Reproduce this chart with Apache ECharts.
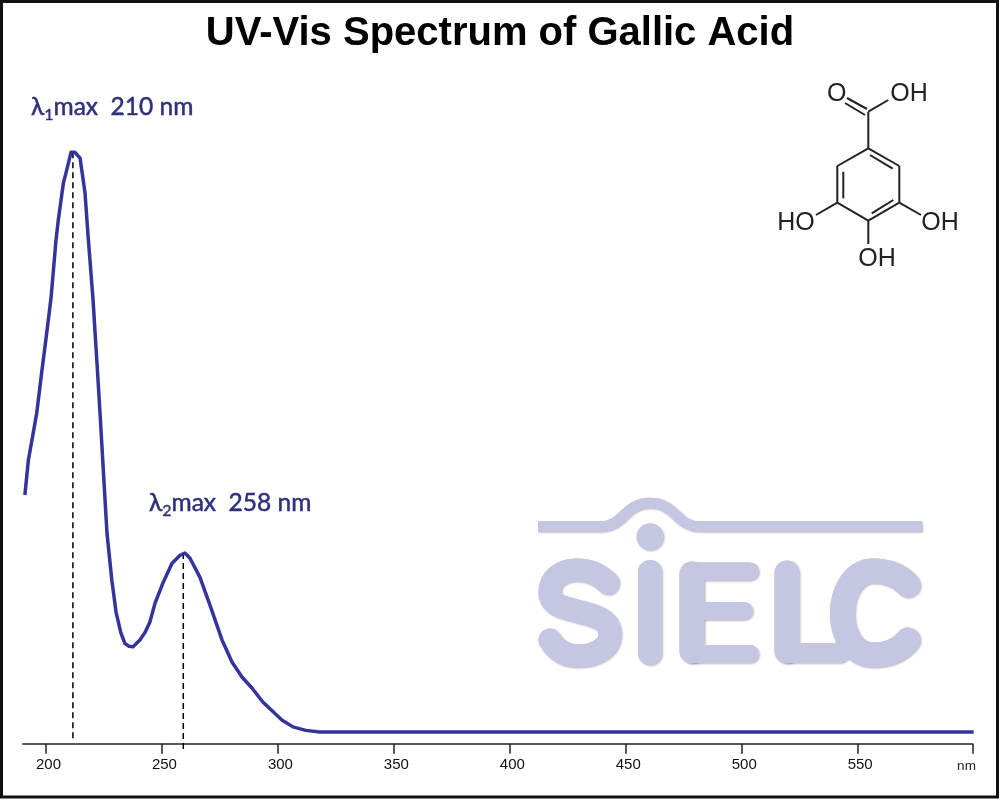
<!DOCTYPE html>
<html>
<head>
<meta charset="utf-8">
<style>html,body{margin:0;padding:0;background:#fff}#c{width:1000px;height:800px}</style>
<script src="https://cdn.jsdelivr.net/npm/echarts@6/dist/echarts.min.js"></script>
</head>
<body>
<div id="c"></div>
<script>
const titleText = 'UV-Vis Spectrum of Gallic Acid';
const tickValues = [200,250,300,350,400,450,500,550,600];
const tickLabels = ['200','250','300','350','400','450','500','550','nm'];
const wavelengths = [190.9,192.4,196,198.1,200.3,202.2,204.3,205.3,207.5,208.9,210.8,212.5,214.7,216.8,218.2,220.3,221.1,222,223.3,224.6,225.6,226.3,228.4,230.2,232.3,234,235.8,237.5,240.5,242.7,244.8,247,250.4,254.3,257.8,259.9,262.1,266.4,270.7,275.9,280.2,284.5,288.8,293.5,301.7,306.5,312,318,600];
const absorbance = [.409,.469,.550,.619,.688,.750,.848,.883,.947,.969,1,1,.990,.931,.853,.745,.693,.636,.55,.460,.391,.343,.262,.207,.171,.153,.148,.147,.159,.172,.19,.222,.257,.291,.305,.309,.300,.267,.219,.159,.121,.095,.076,.052,.021,.009,.003,0,0];
const peak1Wavelength = [211.6,211.6];
const peak1Level = [1,-.012];
const peak2Wavelength = [259.2,259.2];
const peak2Level = [.309,-.033];

const blue = '#34349c', labelBlue = '#2f2f7c', logo = '#c5c6e2', ink = '#222';
const zip = (a,b) => a.map((v,i) => [v,b[i]]);
const dashed = (name,xs,ys) => ({name,type:'line',data:zip(xs,ys),symbol:'none',silent:true,clip:false,z:1,
  lineStyle:{color:'#000',width:1.5,type:[6,4]}});

const shadow = {shadowBlur:2,shadowOffsetX:1,shadowOffsetY:1,shadowColor:'rgba(60,60,80,.35)'};
let shapeId = 0;
const logoStrokes = [
  ['M538 526.5 H600 C624 526.5 624 503 650 503 C676 503 676 526.5 700 526.5 H922',10.5,'butt'],
  ['M608 583 C600 575 590 570 577 570 C562 570 550 578 550 592 C550 606 565 608 580 612 C597 616 610 620 610 634 C610 648 595 656 578 656 C565 656 556 650 550 640',23],
  ['M650 572 V653',24],
  ['M692 574 V651',25],
  ['M692 571.5 H750',18],
  ['M692 611 H744',18],
  ['M692 654 H750',18],
  ['M787 573 V651',25],
  ['M787 653 H840',20],
  ['M908 585 C900 576 888 571 873 571 C855 571 842.5 590 842.5 613 C842.5 637 855 655 873 655 C888 655 900 650 908 640',25]
];
function logoLayer(withShadow){
  return logoStrokes.map(([d,w,cap]) => {
    const name = 'logoStroke' + (shapeId++);
    echarts.graphic.registerShape(name, echarts.graphic.extendPath(d, {}));
    return {type:name,z:0,silent:true,
      style:Object.assign({fill:null,stroke:logo,lineWidth:w,lineCap:cap||'round',lineJoin:'round'},withShadow?shadow:{})};
  });
}
function bond(x1,y1,x2,y2){
  return {type:'line',z:3,silent:true,shape:{x1,y1,x2,y2},style:{stroke:ink,lineWidth:2}};
}
function atom(t,x,y){
  return {type:'text',z:3,silent:true,x,y,style:{text:t,fill:ink,font:'25px "Liberation Sans"',align:'center',verticalAlign:'middle'}};
}
function peakLabel(idx,rest,x,y){
  return {type:'text',z:3,silent:true,x,y,style:{
    text:'{a|λ}{s|'+idx+'}{a|'+rest+'}',
    rich:{a:{font:'24.5px Lato, "Noto Sans"',fill:labelBlue,stroke:labelBlue,lineWidth:.5,verticalAlign:'middle'},
          s:{font:'16px Lato, "Noto Sans"',fill:labelBlue,stroke:labelBlue,lineWidth:.4,verticalAlign:'bottom',lineHeight:32}},
    verticalAlign:'middle',align:'left'}};
}

const graphics = [
  {type:'circle',z:0,silent:true,shape:{cx:650,cy:536.7,r:13.5},style:Object.assign({fill:logo},shadow)},
  ...logoLayer(true),
  ...logoLayer(false),
  bond(868.3,148.3,899.3,166),bond(899.3,166,899.3,202.7),bond(899.3,202.7,868.3,220.7),
  bond(868.3,220.7,837.3,202.7),bond(837.3,202.7,837.3,166),bond(837.3,166,868.3,148.3),
  bond(870,155,892.7,168.7),bond(843.3,171.7,843.3,198.3),bond(871.7,213.3,893.3,200),
  bond(868.3,148.3,868.3,111.7),bond(867,109,847,98),bond(865,115,845,103),bond(868.3,111.7,888.3,100),
  bond(837.3,202.7,816,215),bond(899.3,202.7,921,215),bond(868.3,220.7,868.3,244),
  atom('O',836.7,94),atom('OH',909,94),atom('HO',796,223),atom('OH',940,223),atom('OH',877,259),
  peakLabel('1','max  210 nm',31,107),
  peakLabel('2','max  258 nm',149,503),
  {type:'rect',z:5,silent:true,shape:{x:1.5,y:1.5,width:996,height:795.5},style:{fill:null,stroke:'#111',lineWidth:3}}
];

const chart = echarts.init(document.getElementById('c'),null,{renderer:'canvas'});
chart.setOption({
  animation:false,
  backgroundColor:'#fff',
  title:{text:titleText,left:'center',top:9,textStyle:{fontFamily:'Liberation Sans',fontWeight:'bold',fontSize:40,color:'#000'}},
  grid:{left:22.8,width:949.7,top:94.4,bottom:56.3,containLabel:false},
  xAxis:{type:'value',min:190,max:599.5,
    splitLine:{show:false},
    axisLine:{show:true,onZero:false,lineStyle:{color:'#222',width:1.5}},
    axisTick:{show:true,length:10,customValues:tickValues.slice(0,-1).concat([599.5]),lineStyle:{color:'#222',width:1.5}},
    axisLabel:{show:true,margin:14,customValues:tickValues.slice(0,-1).concat([599.5]),hideOverlap:false,
      showMinLabel:true,showMaxLabel:true,alignMinLabel:'center',alignMaxLabel:'center',
      formatter:v=>{const i=tickValues.indexOf(v);return i>=0?'{t|'+tickLabels[i]+'}':'{n|'+tickLabels[tickLabels.length-1]+'}';},
      rich:{t:{fontFamily:'Liberation Sans',fontSize:15,color:'#111',padding:[0,0,0,5]},
            n:{fontFamily:'Liberation Sans',fontSize:13.5,color:'#222',padding:[2,0,0,-12]}}}},
  yAxis:{type:'value',min:-.02,max:1.1,show:false},
  graphic:graphics,
  series:[
    dashed('Peak 1',peak1Wavelength,peak1Level),
    dashed('Peak 2',peak2Wavelength,peak2Level),
    {name:'Gallic acid',type:'line',data:zip(wavelengths,absorbance),symbol:'none',smooth:false,z:2,
      lineStyle:{color:blue,width:3.5,join:'round'}}
  ]
});
</script>
</body>
</html>
